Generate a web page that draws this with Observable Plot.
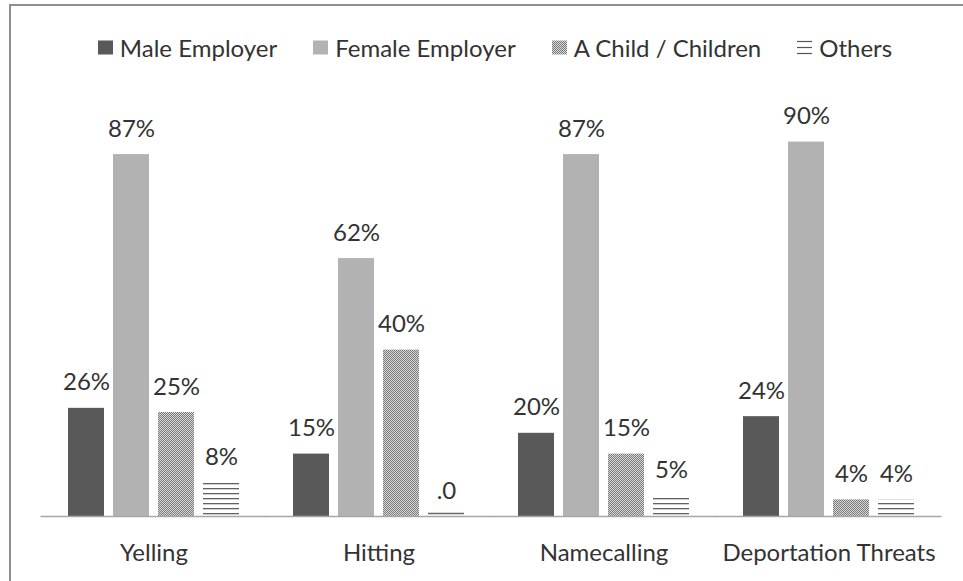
<!DOCTYPE html>
<html><head><meta charset="utf-8">
<script src="https://cdn.jsdelivr.net/npm/d3@7"></script>
<script src="https://cdn.jsdelivr.net/npm/@observablehq/plot@0.6"></script>
<style>
body{margin:0;background:#fff;font-family:Lato,sans-serif;}
#wrap{position:relative;width:963px;height:581px;overflow:hidden;background:#fff;}
#frame{position:absolute;left:9px;top:4px;width:1000px;height:700px;border-left:2px solid #8e8e8e;border-top:2px solid #8e8e8e;}
#legend{position:absolute;left:0;top:33px;width:990px;height:28px;display:flex;justify-content:center;align-items:center;gap:36px;font-size:24px;color:#333;white-space:nowrap;}
.item{display:flex;align-items:center;gap:7px;}
.item svg{display:block;}
#chart{position:absolute;left:0;top:75px;}
</style></head>
<body><div id="wrap"><div id="frame"></div><div id="legend"></div><div id="chart"></div></div>
<script>
const categories = ["Yelling", "Hitting", "Namecalling", "Deportation Threats"];
const series = ["Male Employer", "Female Employer", "A Child / Children", "Others"];
const maleEmployer = [26, 15, 20, 24];
const femaleEmployer = [87, 62, 87, 90];
const childChildren = [25, 40, 15, 4];
const others = [8, 0, 5, 4];

const seriesValues = [maleEmployer, femaleEmployer, childChildren, others];
const seriesFills = ["#595959", "#b2b2b2", "url(#checker)", "url(#hlines)"];
const valueLabel = v => v === 0 ? ".0" : v + "%";

const data = [];
categories.forEach((c, i) => series.forEach((s, j) => data.push({category: c, series: s, value: seriesValues[j][i]})));

const chart = Plot.plot({
  width: 963, height: 506,
  marginLeft: 40, marginRight: 20, marginTop: 25, marginBottom: 65,
  style: {fontFamily: "Lato, sans-serif", background: "transparent", overflow: "visible"},
  fx: {domain: categories, paddingInner: 0.239, paddingOuter: 0.12, label: null},
  x: {domain: series, paddingInner: 0.21, paddingOuter: 0, axis: null},
  y: {domain: [0, 100], axis: null},
  color: {domain: series, range: seriesFills},
  marks: [
    Plot.barY(data, {fx: "category", x: "series", y: "value", fill: "series"}),
    Plot.tickY(data.filter(d => d.value === 0), {fx: "category", x: "series", y: "value", stroke: "#666", strokeWidth: 1.3, dy: -3}),
    Plot.ruleY([0], {stroke: "#a6a6a6", strokeWidth: 1.5, insetLeft: -27.5, insetRight: -27.5}),
    Plot.text(data, {fx: "category", x: "series", y: "value", text: d => valueLabel(d.value), lineAnchor: "bottom", dy: -18, fontSize: 24, fill: "#333"}),
    Plot.axisFx({anchor: "bottom", tickSize: 0, tickPadding: 27, fontSize: 24, fill: "#333", label: null})
  ]
});

const svg = d3.select(chart);
const defs = svg.insert("defs", ":first-child");
const ck = defs.append("pattern").attr("id", "checker").attr("patternUnits", "userSpaceOnUse").attr("width", 2).attr("height", 2);
ck.append("rect").attr("width", 2).attr("height", 2).attr("fill", "#d8d8d8");
ck.append("rect").attr("width", 1).attr("height", 1).attr("fill", "#7a7a7a");
ck.append("rect").attr("x", 1).attr("y", 1).attr("width", 1).attr("height", 1).attr("fill", "#7a7a7a");
const hl = defs.append("pattern").attr("id", "hlines").attr("patternUnits", "userSpaceOnUse").attr("width", 8).attr("height", 5);
hl.append("rect").attr("width", 8).attr("height", 5).attr("fill", "#fff");
hl.append("rect").attr("y", 3).attr("width", 8).attr("height", 1.3).attr("fill", "#626262");
document.getElementById("chart").appendChild(chart);

// legend
const legend = d3.select("#legend");
series.forEach((s, j) => {
  const item = legend.append("div").attr("class", "item");
  const sw = item.append("svg").attr("width", 15).attr("height", 15);
  if (j === 0 || j === 1) {
    sw.append("rect").attr("y", 0.5).attr("width", 15).attr("height", 14).attr("fill", seriesFills[j]);
  } else if (j === 2) {
    const p = sw.append("defs").append("pattern").attr("id", "lgck").attr("patternUnits", "userSpaceOnUse").attr("width", 2).attr("height", 2);
    p.append("rect").attr("width", 2).attr("height", 2).attr("fill", "#d8d8d8");
    p.append("rect").attr("width", 1).attr("height", 1).attr("fill", "#7a7a7a");
    p.append("rect").attr("x", 1).attr("y", 1).attr("width", 1).attr("height", 1).attr("fill", "#7a7a7a");
    sw.append("rect").attr("y", 0.5).attr("width", 15).attr("height", 14).attr("fill", "url(#lgck)");
  } else {
    [1.5, 7.5, 13.5].forEach(y => sw.append("rect").attr("y", y - 0.6).attr("width", 15).attr("height", 1.2).attr("fill", "#555"));
  }
  item.append("span").text(s);
});
</script>
</body></html>
